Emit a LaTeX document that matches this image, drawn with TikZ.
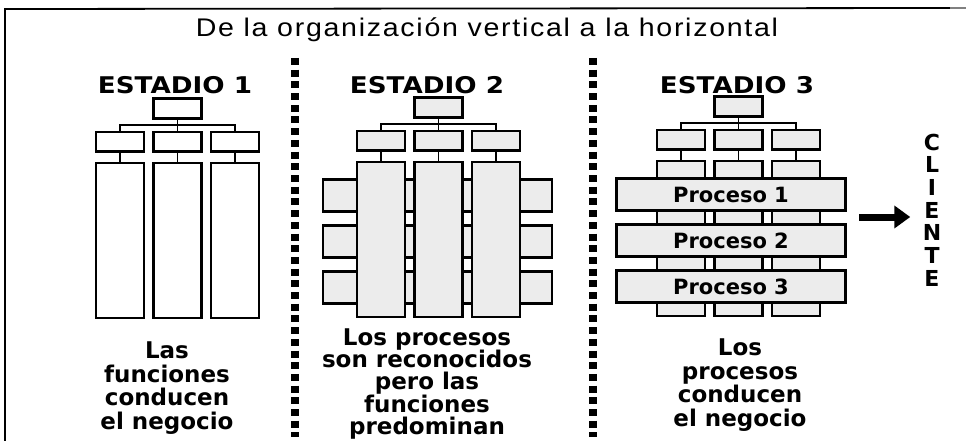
\documentclass[tikz,border=0pt]{standalone}
\usepackage{fontspec}
\setmainfont{DejaVu Sans}
\newfontfamily\titlefont[LetterSpace=6]{Liberation Sans}
\usepackage{tikz}
\usetikzlibrary{positioning, arrows.meta}
\definecolor{boxgray}{RGB}{236,236,236}

\begin{document}
\begin{tikzpicture}[
    x=1pt, y=1pt,
    node distance=7pt,
    unit/.style={rectangle, draw, line width=2.6pt, fill=white, minimum width=48pt, minimum height=19.5pt, inner sep=0pt},
    shaded/.style={unit, fill=boxgray},
    column/.style={minimum height=155pt},
    process/.style={rectangle, draw, line width=2.6pt, fill=boxgray, minimum width=229pt, minimum height=32pt, inner sep=0pt, font=\fontsize{21}{21}\selectfont\bfseries},
    link/.style={line width=1.6pt},
    stage/.style={font=\fontsize{23}{23}\selectfont\bfseries},
    caption/.style={align=center, font=\fontsize{23}{23.5}\selectfont\bfseries},
    divider/.style={line width=8pt, dash pattern=on 7pt off 4.7pt}
]
\useasboundingbox (0,0) rectangle (966,-441);

% frame and title
\draw[line width=1.8pt] (5,-441) -- (5,-9) -- (950,-8);
\draw[line width=1.2pt, gray] (950,-8) -- (966,-8);
\node[font=\titlefont\fontsize{25.5}{25.5}\selectfont] (title) at (487,-30) {\scalebox{1.12}[1]{De la organización vertical a la horizontal}};

% estadio 1
\node[stage] (st1) at (175,-85) {\scalebox{1.14}[1]{ESTADIO 1}};
\node[unit] (top1) at (177.5,-108.5) {};
\node[unit, below=11pt of top1] (fb1) {};
\node[unit, left=of fb1] (fa1) {};
\node[unit, right=of fb1] (fc1) {};
\node[unit, column, below=9pt of fa1] (ca1) {};
\node[unit, column, below=9pt of fb1] (cb1) {};
\node[unit, column, below=9pt of fc1] (cc1) {};
\draw[link] (top1) -- (fb1);
\draw[link] (top1.south) -- ++(0,-5.5) -| (fa1.north);
\draw[link] (top1.south) -- ++(0,-5.5) -| (fc1.north);
\draw[link] (fa1) -- (ca1);
\draw[link] (fb1) -- (cb1);
\draw[link] (fc1) -- (cc1);
\node[caption] (txt1) at (167,-388) {Las\\funciones\\conducen\\el negocio};

% estadio 2
\node[stage] (st2) at (427,-85) {\scalebox{1.14}[1]{ESTADIO 2}};
\node[process] (pa2) at (437.5,-195.5) {};
\node[process, below=11.4pt of pa2] (pb2) {};
\node[process, below=11.4pt of pb2] (pc2) {};
\node[shaded] (top2) at (438.5,-107.5) {};
\node[shaded, below=11pt of top2] (fb2) {};
\node[shaded, left=of fb2] (fa2) {};
\node[shaded, right=of fb2] (fc2) {};
\node[shaded, column, below=9pt of fa2] (ca2) {};
\node[shaded, column, below=9pt of fb2] (cb2) {};
\node[shaded, column, below=9pt of fc2] (cc2) {};
\draw[link] (top2) -- (fb2);
\draw[link] (top2.south) -- ++(0,-5.5) -| (fa2.north);
\draw[link] (top2.south) -- ++(0,-5.5) -| (fc2.north);
\draw[link] (fa2) -- (ca2);
\draw[link] (fb2) -- (cb2);
\draw[link] (fc2) -- (cc2);
\node[caption, font=\fontsize{23}{22.3}\selectfont\bfseries] (txt2) at (427,-384) {Los procesos\\son reconocidos\\pero las\\funciones\\predominan};

% estadio 3
\node[stage] (st3) at (737,-85) {\scalebox{1.14}[1]{ESTADIO 3}};
\node[shaded] (top3) at (738.5,-106.5) {};
\node[shaded, below=11pt of top3] (fb3) {};
\node[shaded, left=of fb3] (fa3) {};
\node[shaded, right=of fb3] (fc3) {};
\node[shaded, column, below=9pt of fa3] (ca3) {};
\node[shaded, column, below=9pt of fb3] (cb3) {};
\node[shaded, column, below=9pt of fc3] (cc3) {};
\draw[link] (top3) -- (fb3);
\draw[link] (top3.south) -- ++(0,-5.5) -| (fa3.north);
\draw[link] (top3.south) -- ++(0,-5.5) -| (fc3.north);
\draw[link] (fa3) -- (ca3);
\draw[link] (fb3) -- (cb3);
\draw[link] (fc3) -- (cc3);
\node[process] (pa3) at (731,-194.5) {Proceso 1};
\node[process, below=11.4pt of pa3] (pb3) {Proceso 2};
\node[process, below=11.4pt of pb3] (pc3) {Proceso 3};
\node[caption] (txt3) at (740,-385) {Los\\procesos\\conducen\\el negocio};

% cliente
\node[align=center, font=\fontsize{22}{22.7}\selectfont\bfseries] (client) at (932,-210) {C\\L\\I\\E\\N\\T\\E};
\coordinate (arrtail) at (859,-217);
\draw[-{Triangle[length=16pt,width=22pt]}, line width=7pt, shorten >=9pt] (arrtail) -- (client.west |- arrtail);

% separadores
\draw[divider] (295,-58) -- (295,-437);
\draw[divider] (593,-58) -- (593,-437);

\end{tikzpicture}
\end{document}
